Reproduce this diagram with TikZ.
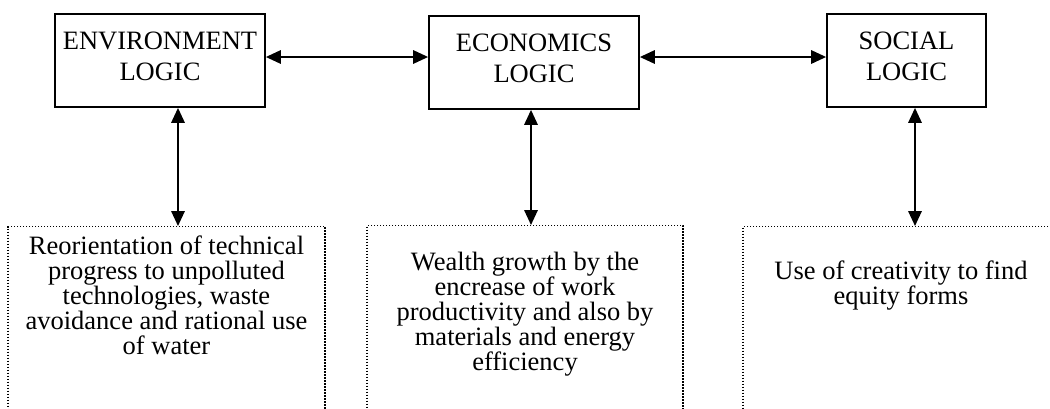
\documentclass[tikz,border=0pt]{standalone}
\usepackage{fontspec}
\setmainfont{Liberation Serif}
\usetikzlibrary{arrows.meta}
\begin{document}
\begin{tikzpicture}[x=1pt,y=-1pt,
  logicbox/.style={draw, line width=1.8pt, inner sep=0pt, align=center,
    font=\fontsize{26.5}{31}\selectfont, text depth=8pt},
  dotbox/.style={draw, line width=1.1pt, dash pattern=on 1.1pt off 1.9pt, inner sep=0pt},
  bodytext/.style={align=center, inner sep=0pt, anchor=north,
    font=\fontsize{26.5}{25}\selectfont},
  biarrow/.style={line width=1.7pt,
    {Triangle[length=15pt,width=13.5pt]}-{Triangle[length=15pt,width=13.5pt]}}]
\useasboundingbox (0,0) rectangle (1050,408);
\clip (0,0) rectangle (1050,408);

\node[logicbox, minimum width=210pt, minimum height=93pt] (env) at (160,60.5) {ENVIRONMENT\\LOGIC};
\node[logicbox, minimum width=210pt, minimum height=93pt] (econ) at (534,62.5) {ECONOMICS\\LOGIC};
\node[logicbox, minimum width=159pt, minimum height=93pt] (soc) at (906.5,60.5) {SOCIAL\\LOGIC};

\node[dotbox, minimum width=317pt, minimum height=240pt, anchor=north] (envd) at (166.5,226) {};
\node[dotbox, minimum width=316pt, minimum height=240pt, anchor=north] (econd) at (525,225) {};
\node[dotbox, minimum width=316pt, minimum height=240pt, anchor=north] (socd) at (901,226) {};

\node[bodytext] (envt) at (166.5,235.5) {Reorientation of technical\\progress to unpolluted\\technologies, waste\\avoidance and rational use\\of water};
\node[bodytext] (econt) at (525,252) {Wealth growth by the\\encrease of work\\productivity and also by\\materials and energy\\efficiency};
\node[bodytext] (soct) at (901,260.5) {Use of creativity to find\\equity forms};

\coordinate (h1) at (0,57);
\draw[biarrow] (env.east |- h1) -- (econ.west |- h1);
\draw[biarrow] (econ.east |- h1) -- (soc.west |- h1);

\coordinate (v1) at (178,0);
\coordinate (v2) at (531,0);
\coordinate (v3) at (915,0);
\draw[biarrow] (env.south -| v1) -- (envd.north -| v1);
\draw[biarrow] (econ.south -| v2) -- (econd.north -| v2);
\draw[biarrow] (soc.south -| v3) -- (socd.north -| v3);
\end{tikzpicture}
\end{document}
